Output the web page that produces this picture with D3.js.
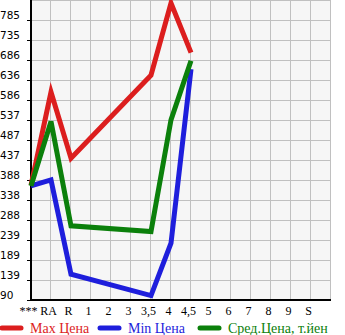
<!DOCTYPE html>
<html>
<head>
<meta charset="utf-8">
<script src="https://cdn.jsdelivr.net/npm/d3@7"></script>
<style>
  body { margin: 0; background: #fff; }
  svg { display: block; }
</style>
</head>
<body>
<script>
// categories (x axis) and values
var categories = ["***", "RA", "R", "1", "2", "3", "3,5", "4", "4,5", "5", "6", "7", "8", "9", "S"];
var yTicks = [90, 139, 189, 239, 288, 338, 388, 437, 487, 537, 586, 636, 686, 735, 785];

var pointCats = ["***", "RA", "R", "3,5", "4", "4,5"];
var maxPrice = [375, 606, 442, 648, 827, 704];
var minPrice = [373, 388, 154, 101, 231, 663];
var avgPrice = [373, 533, 274, 260, 537, 684];

var series = [
  { name: "Max Цена", color: "#dc1e1e", values: maxPrice },
  { name: "Min Цена", color: "#1e1edc", values: minPrice },
  { name: "Сред.Цена, т.йен", color: "#0b800b", values: avgPrice }
];

var W = 345, H = 335;
var pLeft = 31, pRight = 331, pTop = 0, pBottom = 300;
var step = 49.64;

var svg = d3.select("body").append("svg")
  .attr("width", W)
  .attr("height", H);

// SCALES
var x = d3.scalePoint()
  .domain(categories.concat(["end"]))
  .range([pLeft, pRight]);

var y = d3.scaleLinear()
  .domain([90, 90 + step * 15])
  .range([pBottom, pTop]);

// PLOT BACKGROUND
svg.append("rect")
  .attr("x", pLeft).attr("y", pTop)
  .attr("width", pRight - pLeft).attr("height", pBottom - pTop)
  .attr("fill", "#f6f6f6");

// GRID
var grid = svg.append("g").attr("stroke", "#c0c0c0").attr("stroke-width", 1);
grid.selectAll(".vg")
  .data(categories.concat(["end"]))
  .enter().append("line")
  .attr("x1", function(d) { return Math.round(x(d)) - 0.5; })
  .attr("x2", function(d) { return Math.round(x(d)) - 0.5; })
  .attr("y1", pTop).attr("y2", pBottom);
grid.selectAll(".hg")
  .data(d3.range(0, 16))
  .enter().append("line")
  .attr("x1", pLeft).attr("x2", pRight)
  .attr("y1", function(i) { return Math.round(y(90 + step * i)) + 0.5; })
  .attr("y2", function(i) { return Math.round(y(90 + step * i)) + 0.5; });

// AXES
var yAxis = d3.axisLeft(y)
  .tickValues(d3.range(0, 15).map(function(i) { return 90 + step * i; }))
  .tickSize(4)
  .tickFormat(function(d, i) { return yTicks[i]; });

var ya = svg.append("g")
  .attr("transform", "translate(" + pLeft + ",0)")
  .call(yAxis);
ya.select(".domain").remove();
ya.selectAll("line").attr("stroke", "#000");
ya.selectAll("text")
  .attr("x", -pLeft)
  .attr("dy", "-0.1em")
  .attr("text-anchor", "start")
  .style("font-family", "'DejaVu Sans', sans-serif")
  .style("font-size", "10.5px")
  .attr("fill", "#000");

var xAxis = d3.axisBottom(x)
  .tickValues(categories)
  .tickSize(0)
  .tickPadding(6);
var xa = svg.append("g")
  .attr("transform", "translate(0," + pBottom + ")")
  .call(xAxis);
xa.select(".domain").remove();
xa.selectAll("text")
  .attr("dx", "-3")
  .style("font-family", "'Liberation Serif', serif")
  .style("font-size", "12px")
  .attr("fill", "#000");

svg.append("line")
  .attr("x1", pLeft).attr("x2", pLeft)
  .attr("y1", pTop).attr("y2", pBottom + 1)
  .attr("stroke", "#000").attr("stroke-width", 2);
svg.append("line")
  .attr("x1", pLeft - 1).attr("x2", pRight)
  .attr("y1", pBottom).attr("y2", pBottom)
  .attr("stroke", "#000").attr("stroke-width", 2);

// LINES
var line = d3.line()
  .x(function(d, i) { return x(pointCats[i]); })
  .y(function(d) { return y(d); });

svg.selectAll(".series")
  .data(series)
  .enter().append("path")
  .attr("d", function(s) { return line(s.values); })
  .attr("fill", "none")
  .attr("stroke", function(s) { return s.color; })
  .attr("stroke-width", 5)
  .attr("stroke-linejoin", "miter")
  .attr("stroke-linecap", "butt");

// LEGEND
var legendX = [0, 98, 198];
var lg = svg.selectAll(".legend")
  .data(series)
  .enter().append("g")
  .attr("transform", function(s, i) { return "translate(" + legendX[i] + ",328)"; });
lg.append("line")
  .attr("x1", 2).attr("x2", 21)
  .attr("stroke", function(s) { return s.color; })
  .attr("stroke-width", 5)
  .attr("stroke-linecap", "round");
lg.append("text")
  .attr("x", 30)
  .attr("dy", "0.35em")
  .attr("fill", function(s) { return s.color; })
  .style("font-family", "'Liberation Serif', serif")
  .style("font-size", "14px")
  .text(function(s) { return s.name; });
</script>
</body>
</html>
